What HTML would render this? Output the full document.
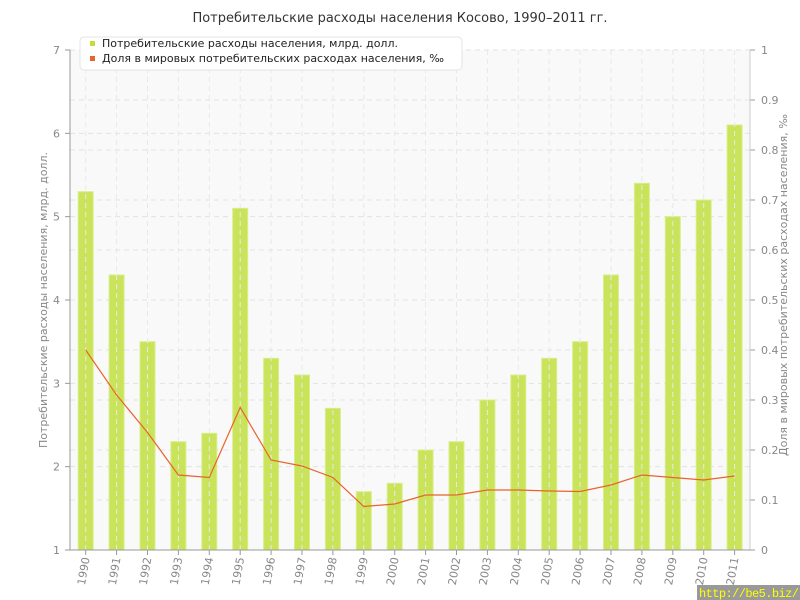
<!DOCTYPE html>
<html><head><meta charset="utf-8"><style>body{margin:0;background:#fff}svg{display:block;font-family:"DejaVu Sans","Liberation Sans",sans-serif}</style></head><body>
<svg width="800" height="600" xmlns="http://www.w3.org/2000/svg">
<text x="400" y="22" font-size="13" text-anchor="middle" fill="#333">Потребительские расходы населения Косово, 1990–2011 гг.</text>
<rect x="70" y="50" width="680" height="500" fill="#f9f9f9"/>
<g id="g"></g>
<line x1="70" y1="50" x2="70" y2="550" stroke="#999"/>
<line x1="750" y1="50" x2="750" y2="550" stroke="#ccc"/>
<line x1="70" y1="550" x2="750" y2="550" stroke="#999"/>
<text transform="translate(47,300) rotate(-90)" font-size="11" text-anchor="middle" fill="#888">Потребительские расходы населения, млрд. долл.</text>
<text transform="translate(787,285) rotate(-90)" font-size="11" text-anchor="middle" fill="#888">Доля в мировых потребительских расходах населения, ‰</text>
<rect x="80" y="37" width="382" height="33" rx="4" fill="#fff" stroke="#e4e4e4"/>
<rect x="90" y="41" width="5" height="5" fill="#bfe03a"/>
<text x="102" y="47" font-size="11" fill="#222">Потребительские расходы населения, млрд. долл.</text>
<rect x="90" y="56" width="5" height="5" fill="#e8642c"/>
<text x="102" y="62" font-size="11" fill="#222">Доля в мировых потребительских расходах населения, ‰</text>
<rect x="697" y="585" width="103" height="15" fill="#999"/>
<text x="699" y="597" font-size="12" fill="#ff0" font-family="Liberation Mono,monospace" textLength="100">http://be5.biz/</text>
</svg>
<script>
const g=document.getElementById('g');let s='';
const bars=[5.3,4.3,3.5,2.3,2.4,5.1,3.3,3.1,2.7,1.7,1.8,2.2,2.3,2.8,3.1,3.3,3.5,4.3,5.4,5.0,5.2,6.1];
const ln=[0.4,0.31,0.235,0.15,0.145,0.285,0.18,0.168,0.145,0.087,0.092,0.11,0.11,0.12,0.12,0.118,0.117,0.13,0.15,0.145,0.14,0.148];
for(let v=0;v<=10;v++){const y=550-50*v;s+=`<line x1="70" x2="750" y1="${y}" y2="${y}" stroke="#e2e2e2" stroke-dasharray="5,4"/><line x1="750" x2="755" y1="${y}" y2="${y}" stroke="#999"/><text x="761" y="${y+4}" font-size="11" fill="#888">${v==0?'0':v==10?'1':'0.'+v}</text>`;}
for(let v=1;v<=7;v++){const y=550-(v-1)*500/6;s+=`<line x1="70" x2="750" y1="${y}" y2="${y}" stroke="#e2e2e2" stroke-dasharray="5,4"/><line x1="65" x2="70" y1="${y}" y2="${y}" stroke="#999"/><text x="60" y="${y+4}" font-size="11" fill="#888" text-anchor="end">${v}</text>`;}
let pts=[];
bars.forEach((b,i)=>{const x=85.7+30.9*i;const y=550-(b-1)*500/6;
s+=`<rect x="${x-7.5}" y="${y}" width="15" height="${550-y}" fill="#c9e45a" stroke="#d9ee8a" stroke-width="1"/>`;
s+=`<line x1="${x}" x2="${x}" y1="50" y2="550" stroke="#e8e8e8" stroke-dasharray="5,4"/><line x1="${x}" x2="${x}" y1="550" y2="555" stroke="#999"/>`;
s+=`<text transform="translate(${x+4},558) rotate(-80)" font-size="11" fill="#888" text-anchor="end">${1990+i}</text>`;
pts.push(x+','+(550-500*ln[i]));});
s+=`<polyline points="${pts.join(' ')}" fill="none" stroke="#e8642c" stroke-width="1.2"/>`;
g.innerHTML=s;
</script>
</body></html>
